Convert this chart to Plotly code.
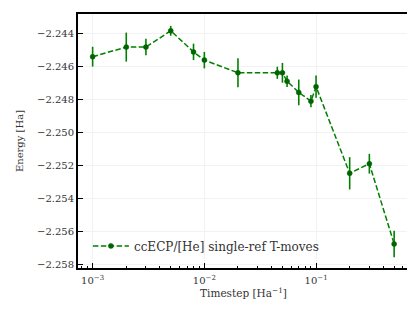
import plotly.graph_objects as go

timestep = [0.001, 0.002, 0.003, 0.005, 0.008, 0.01, 0.02, 0.045, 0.05, 0.055, 0.07, 0.09, 0.1, 0.2, 0.3, 0.5]
energy = [-2.24538, -2.24480, -2.24480, -2.24381, -2.24509, -2.24559, -2.24636, -2.24636, -2.24636,
          -2.24687, -2.24755, -2.24808, -2.24720, -2.25246, -2.25188, -2.25675]
energy_err = [0.0006, 0.00088, 0.0005, 0.0003, 0.0005, 0.0005, 0.00088, 0.00037, 0.0006,
              0.00035, 0.00078, 0.00037, 0.00068, 0.00098, 0.0006, 0.0008]
series_name = "ccECP/[He] single-ref T-moves"
x_major = [1e-3, 1e-2, 1e-1]
x_major_text = ["10<sup>−3</sup>", "10<sup>−2</sup>", "10<sup>−1</sup>"]
x_minor = [m * d for d in [1e-4, 1e-3, 1e-2, 1e-1] for m in range(2, 10)]
y_ticks = [-2.244, -2.246, -2.248, -2.250, -2.252, -2.254, -2.256, -2.258]
y_text = ["−%.3f" % abs(v) for v in y_ticks]

FONT = "DejaVu Serif"
TXT = "#333"

fig = go.Figure()
fig.add_trace(go.Scatter(
    x=timestep, y=energy, name=series_name, mode="lines+markers",
    line=dict(color="green", dash="5.5px,2.4px", width=1.5),
    marker=dict(color="darkgreen", size=5, line=dict(color="darkgreen", width=0.5)),
    error_y=dict(type="data", array=energy_err, color="green", thickness=1.6, width=0),
))

# page body has an 8px default margin, so the figure is sized to fit the window
fig.update_layout(
    width=407, height=304,
    margin=dict(l=70, r=6, t=6, b=44),
    paper_bgcolor="white", plot_bgcolor="white",
    font=dict(family=FONT, size=10, color=TXT),
    showlegend=True,
    legend=dict(x=0.03, y=0.03, xanchor="left", yanchor="bottom", bgcolor="rgba(255,255,255,0)",
                itemwidth=36,
                font=dict(family=FONT, size=12, color=TXT)),
    xaxis=dict(
        type="log", range=[-3.131, -0.168], automargin=False,
        tickvals=x_major, ticktext=x_major_text, ticklabelstandoff=2,
        tickfont=dict(family=FONT, size=10, color=TXT),
        ticks="inside", ticklen=5, tickwidth=1.2, tickcolor="black",
        minor=dict(tickvals=x_minor, ticks="inside", ticklen=2.5, tickwidth=0.8, tickcolor="black", showgrid=False),
        showline=True, linecolor="black", linewidth=1.8, mirror=True,
        showgrid=True, gridcolor="#f2f2f2", gridwidth=1,
        zeroline=False,
        title=dict(text="Timestep [Ha<sup>−1</sup>]", font=dict(family=FONT, size=10.5, color=TXT), standoff=5),
    ),
    yaxis=dict(
        range=[-2.25821, -2.24279], automargin=False,
        tickvals=y_ticks, ticktext=y_text,
        tickfont=dict(family=FONT, size=10, color=TXT),
        ticks="inside", ticklen=5, tickwidth=1.2, tickcolor="black",
        showline=True, linecolor="black", linewidth=1.8, mirror=True,
        showgrid=True, gridcolor="#f2f2f2", gridwidth=1,
        zeroline=False,
        title=dict(text="Energy [Ha]", font=dict(family=FONT, size=10, color=TXT), standoff=12),
    ),
)

fig.write_html("out.html")
